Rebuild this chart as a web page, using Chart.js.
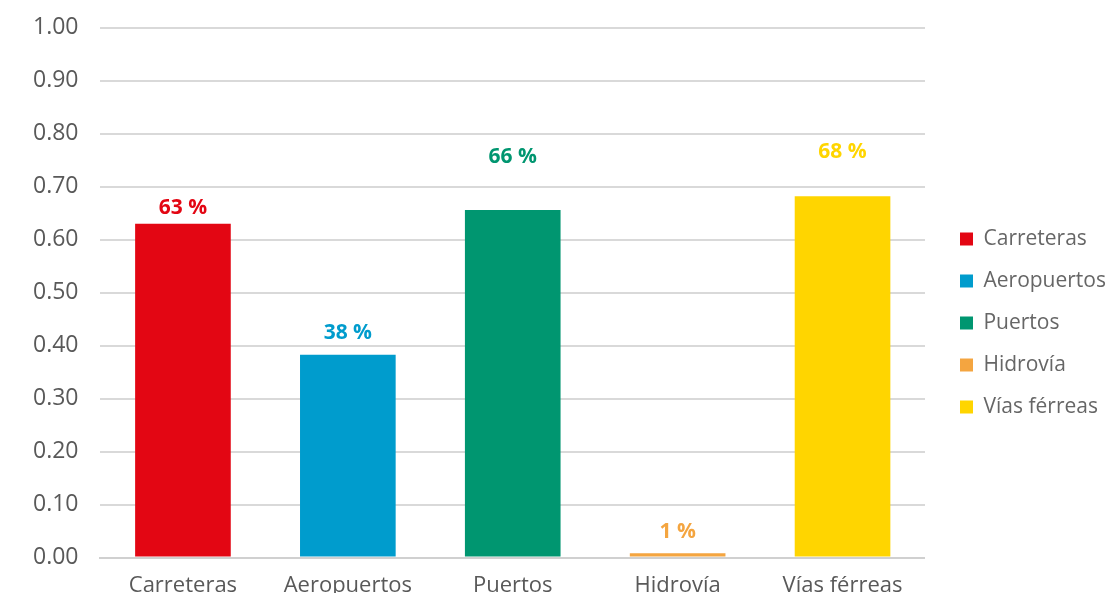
<!DOCTYPE html>
<html>
<head>
<meta charset="utf-8">
<script src="https://cdn.jsdelivr.net/npm/chart.js@4.4.0/dist/chart.umd.min.js"></script>
<style>
  html, body { margin: 0; padding: 0; background: #fff; overflow: hidden; }
  #wrap { width: 1116px; height: 642px; }
</style>
</head>
<body>
<div id="wrap"><canvas id="chart"></canvas></div>
<script>
// Categories and values
const categories = ['Carreteras', 'Aeropuertos', 'Puertos', 'Hidrovía', 'Vías férreas'];
const shares = [0.63, 0.383, 0.656, 0.008, 0.682];
const yTicks = [0, 0.1, 0.2, 0.3, 0.4, 0.5, 0.6, 0.7, 0.8, 0.9, 1.0];

// Bar colours, one per category
const barColors = ['#E30613', '#009CCD', '#009670', '#F4A540', '#FFD500'];

// How far above each bar its label sits (labels were placed by hand in the original)
const labelLift = [16, 22, 53, 21, 44];

const FONT = '"Open Sans", sans-serif';
const GREY = '#595959';

// Draws "63 %" style labels above the bars
const valueLabels = {
    id: 'valueLabels',
    afterDatasetsDraw(chart) {
        const ctx = chart.ctx;
        const meta = chart.getDatasetMeta(0);
        ctx.save();
        ctx.font = 'bold 21px ' + FONT;
        ctx.textAlign = 'center';
        ctx.textBaseline = 'middle';
        meta.data.forEach((bar, i) => {
            ctx.fillStyle = barColors[i];
            ctx.fillText(Math.round(shares[i] * 100) + ' %', bar.x, bar.y - labelLift[i]);
        });
        ctx.restore();
    }
};

new Chart(document.getElementById('chart'), {
    type: 'bar',
    data: {
        labels: categories,
        datasets: [{
            data: shares,
            backgroundColor: barColors,
            borderWidth: 0,
            categoryPercentage: 1,
            barPercentage: 0.58
        }]
    },
    options: {
        responsive: true,
        maintainAspectRatio: false,
        animation: false,
        layout: { padding: { left: 19, top: 4, right: 0, bottom: 28 } },
        plugins: {
            tooltip: { enabled: false },
            legend: {
                position: 'right',
                // empty title only pushes the items down a little
                title: { display: true, text: '', font: { size: 1, lineHeight: 1 }, padding: { top: 27, bottom: 0 } },
                labels: {
                    color: GREY,
                    font: { family: FONT, size: 21 },
                    boxWidth: 13,
                    boxHeight: 13,
                    padding: 21,
                    generateLabels: () => categories.map((c, i) => ({
                        text: c,
                        fillStyle: barColors[i],
                        strokeStyle: barColors[i],
                        lineWidth: 0,
                        hidden: false,
                        index: i
                    }))
                }
            }
        },
        scales: {
            x: {
                grid: { display: false, drawTicks: false },
                border: { color: '#d0d0d0', width: 2 },
                ticks: { color: GREY, font: { family: FONT, size: 22 }, padding: 15 }
            },
            y: {
                min: 0,
                max: 1,
                afterBuildTicks: (scale) => { scale.ticks = yTicks.map(v => ({ value: v })); },
                // invisible tick marks give the label gap without extra top padding
                grid: { color: '#d9d9d9', lineWidth: 2, drawTicks: true, tickLength: 8, tickColor: 'rgba(0,0,0,0)' },
                border: { display: false },
                ticks: {
                    color: GREY,
                    font: { family: FONT, size: 23 },
                    padding: 14,
                    callback: (v) => Number(v).toFixed(2)
                }
            },
            // blank axis: leaves a gap between the plot and the legend
            gap: {
                position: 'right',
                grid: { display: false, drawTicks: false },
                border: { display: false },
                ticks: { display: false },
                afterFit: (scale) => { scale.width = 14; }
            }
        }
    },
    plugins: [valueLabels]
});
</script>
</body>
</html>
